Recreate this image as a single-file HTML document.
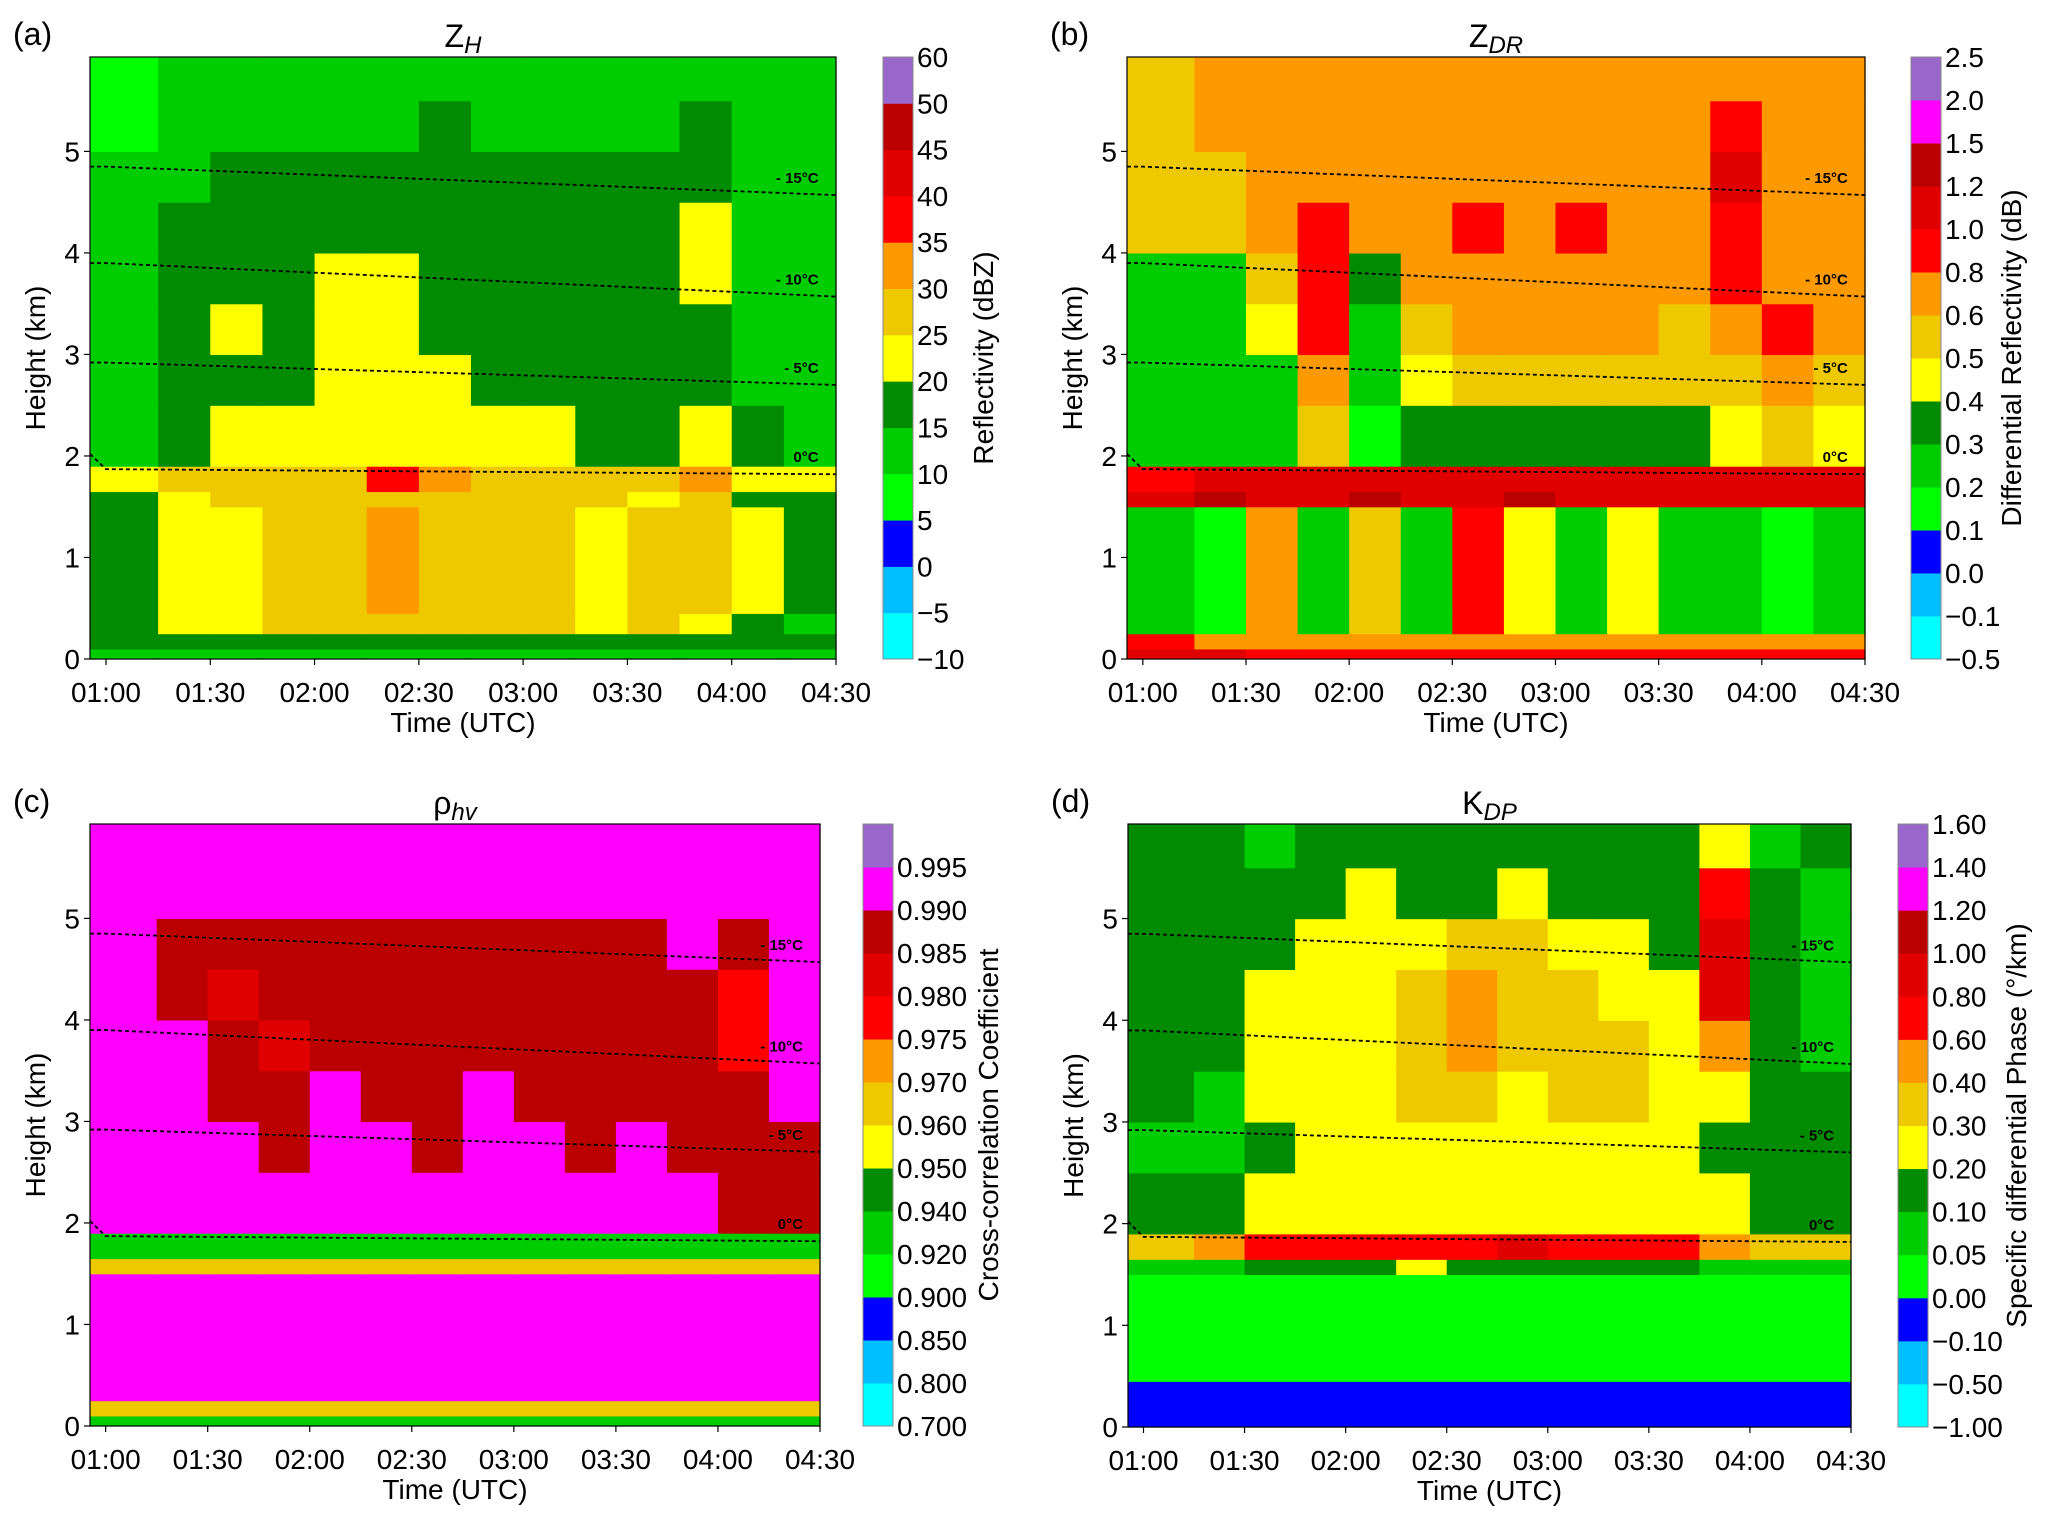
<!DOCTYPE html>
<html><head><meta charset="utf-8">
<style>
html,body{margin:0;padding:0;background:#fff;}
svg{display:block;font-family:"Liberation Sans",sans-serif;}
</style></head>
<body>
<svg id="fig" width="2067" height="1520" viewBox="0 0 2067 1520" xmlns="http://www.w3.org/2000/svg"></svg>
<script>
// palette shared by all panels (bottom to top)
const palette = ["#00ffff","#00bfff","#0000ff","#00ff00","#00cd00","#008b00","#ffff00","#eec900","#ff9900","#ff0000","#e00000","#bb0000","#ff00ff","#9966cc"];
const paletteA = ["#00ffff","#00bfff","#0000ff","#00ff00","#00cd00","#008b00","#ffff00","#eec900","#ff9900","#ff0000","#e00000","#bb0000","#9966cc"];
// row boundaries (km) and column times (minutes after 01:00)
const heights = [0,0.1,0.25,0.45,1.5,1.65,1.9,2.5,3,3.5,4,4.5,5,5.5,5.93];
const times = [-5,15,30,45,60,75,90,105,120,135,150,165,180,195,210];
const xTicks = ["01:00","01:30","02:00","02:30","03:00","03:30","04:00","04:30"];
const yTicks = [0,1,2,3,4,5];
// level indices, rows listed top to bottom
const gridA = [
[3,4,4,4,4,4,4,4,4,4,4,4,4,4],
[3,4,4,4,4,4,5,4,4,4,4,5,4,4],
[4,4,5,5,5,5,5,5,5,5,5,5,4,4],
[4,5,5,5,5,5,5,5,5,5,5,6,4,4],
[4,5,5,5,6,6,5,5,5,5,5,6,4,4],
[4,5,6,5,6,6,5,5,5,5,5,5,4,4],
[4,5,5,5,6,6,6,5,5,5,5,5,4,4],
[4,5,6,6,6,6,6,6,6,5,5,6,5,4],
[6,7,7,7,7,9,8,7,7,7,7,8,6,6],
[5,6,7,7,7,7,7,7,7,7,6,7,5,5],
[5,6,6,7,7,8,7,7,7,6,7,7,6,5],
[5,6,6,7,7,7,7,7,7,6,7,6,5,4],
[5,5,5,5,5,5,5,5,5,5,5,5,5,5],
[4,4,4,4,4,4,4,4,4,4,4,4,4,4]];
const gridB = [
[7,8,8,8,8,8,8,8,8,8,8,8,8,8],
[7,8,8,8,8,8,8,8,8,8,8,9,8,8],
[7,7,8,8,8,8,8,8,8,8,8,10,8,8],
[7,7,8,9,8,8,9,8,9,8,8,9,8,8],
[4,4,7,9,5,8,8,8,8,8,8,9,8,8],
[4,4,6,9,4,7,8,8,8,8,7,8,9,8],
[4,4,4,8,4,6,7,7,7,7,7,7,8,7],
[4,4,4,7,3,5,5,5,5,5,5,6,7,6],
[9,10,10,10,10,10,10,10,10,10,10,10,10,10],
[10,11,10,10,11,10,10,11,10,10,10,10,10,10],
[4,3,8,4,7,4,9,6,4,6,4,4,3,4],
[4,3,8,4,7,4,9,6,4,6,4,4,3,4],
[9,8,8,8,8,8,8,8,8,8,8,8,8,8],
[10,10,9,9,9,9,9,9,9,9,9,9,9,9]];
const gridC = [
[12,12,12,12,12,12,12,12,12,12,12,12,12,12],
[12,12,12,12,12,12,12,12,12,12,12,12,12,12],
[12,11,11,11,11,11,11,11,11,11,11,12,11,12],
[12,11,10,11,11,11,11,11,11,11,11,11,9,12],
[12,12,11,10,11,11,11,11,11,11,11,11,9,12],
[12,12,11,11,12,11,11,12,11,11,11,11,11,12],
[12,12,12,11,12,12,11,12,12,11,12,11,11,11],
[12,12,12,12,12,12,12,12,12,12,12,12,11,11],
[4,4,4,4,4,4,4,4,4,4,4,4,4,4],
[7,7,7,7,7,7,7,7,7,7,7,7,7,7],
[12,12,12,12,12,12,12,12,12,12,12,12,12,12],
[12,12,12,12,12,12,12,12,12,12,12,12,12,12],
[7,7,7,7,7,7,7,7,7,7,7,7,7,7],
[4,4,4,4,4,4,4,4,4,4,4,4,4,4]];
const gridD = [
[5,5,4,5,5,5,5,5,5,5,5,6,4,5],
[5,5,5,5,6,5,5,6,5,5,5,9,5,4],
[5,5,5,6,6,6,7,7,6,6,5,10,5,4],
[5,5,6,6,6,7,8,7,7,6,6,10,5,4],
[5,5,6,6,6,7,8,7,7,7,6,8,5,4],
[5,4,6,6,6,7,7,6,7,7,6,6,5,5],
[4,4,5,6,6,6,6,6,6,6,6,5,5,5],
[5,5,6,6,6,6,6,6,6,6,6,6,5,5],
[7,8,9,9,9,9,9,10,9,9,9,8,7,7],
[4,4,5,5,5,6,5,5,5,5,5,4,4,4],
[3,3,3,3,3,3,3,3,3,3,3,3,3,3],
[2,2,2,2,2,2,2,2,2,2,2,2,2,2],
[2,2,2,2,2,2,2,2,2,2,2,2,2,2],
[2,2,2,2,2,2,2,2,2,2,2,2,2,2]];
const cbarA = ["−10","−5","0","5","10","15","20","25","30","35","40","45","50","60"];
const cbarB = ["−0.5","−0.1","0.0","0.1","0.2","0.3","0.4","0.5","0.6","0.8","1.0","1.2","1.5","2.0","2.5"];
const cbarC = ["0.700","0.800","0.850","0.900","0.920","0.940","0.950","0.960","0.970","0.975","0.980","0.985","0.990","0.995"];
const cbarD = ["−1.00","−0.50","−0.10","0.00","0.05","0.10","0.20","0.30","0.40","0.60","0.80","1.00","1.20","1.40","1.60"];
// isotherm heights at start and end (km)
const isoLabels = ["0°C","- 5°C","- 10°C","- 15°C"];
const isoStart = [1.87,2.92,3.9,4.85];
const isoEnd = [1.82,2.7,3.57,4.57];

const NS="http://www.w3.org/2000/svg";
const svg=document.getElementById('fig');
function mk(tag,attrs,parent){const e=document.createElementNS(NS,tag);for(const k in attrs)e.setAttribute(k,attrs[k]);(parent||svg).appendChild(e);return e;}

const panels=[
 {id:"a",L:90,R:836,T:57,B:659,cx:883,cto:110,grid:gridA,pal:paletteA,labels:cbarA,bins:13,title:["Z","H"],cbt:"Reflectivity (dBZ)",lbl:"(a)"},
 {id:"b",L:1127,R:1865,T:57,B:659,cx:1911,cto:110,grid:gridB,pal:palette,labels:cbarB,bins:14,title:["Z","DR"],cbt:"Differential Reflectivity (dB)",lbl:"(b)"},
 {id:"c",L:90,R:820,T:824,B:1426,cx:863,cto:135,grid:gridC,pal:palette,labels:cbarC,bins:14,title:["ρ","hv"],cbt:"Cross-correlation Coefficient",lbl:"(c)"},
 {id:"d",L:1128,R:1851,T:824,B:1427,cx:1898,cto:128,grid:gridD,pal:palette,labels:cbarD,bins:14,title:["K","DP"],cbt:"Specific differential Phase (°/km)",lbl:"(d)"}
];

panels.forEach(p=>{
  const g=mk('g',{});
  
  
  const x=t=>p.L+(t-(-4.6))/(210+4.6)*(p.R-p.L);
  const y=h=>p.B-h/5.93*(p.B-p.T);
  const nr=heights.length-1;
  for(let r=0;r<nr;r++){
    const row=p.grid[nr-1-r];
    for(let c=0;c<row.length;c++){
      const x0=Math.max(p.L,x(times[c])), x1=Math.min(p.R,x(times[c+1]));
      const rc=mk('rect',{x:x0,y:y(heights[r+1]),width:x1-x0+0.6,height:y(heights[r])-y(heights[r+1])+0.6,fill:p.pal[row[c]]},g);
      
      
    }
  }
  isoLabels.forEach((lab,i)=>{
    const pl=mk('path',{d:`M${x(-4.6)},${y(isoStart[i]+(i==0?0.15:0))} L${x(0)},${y(isoStart[i])} L${x(210)},${y(isoEnd[i])}`,fill:"none",stroke:"#000","stroke-width":1.8,"stroke-dasharray":"4,3"},g);
    
    
    const tx=mk('text',{x:x(205),y:y(isoEnd[i])-12,"font-size":15,"font-weight":"bold","text-anchor":"end"},g);
    tx.textContent=lab;
    
    
  });
  const fr=mk('rect',{x:p.L,y:p.T,width:p.R-p.L,height:p.B-p.T,fill:"none",stroke:"#000","stroke-width":1.2},g);
  
  
  xTicks.forEach((t,i)=>{
    const xx=x(i*30);
    mk('line',{x1:xx,x2:xx,y1:p.B,y2:p.B+6,stroke:"#000","stroke-width":1.2},g);
    const tx=mk('text',{x:xx,y:p.B+43,"font-size":28,"text-anchor":"middle"},g);
    tx.textContent=t;
    
    
  });
  yTicks.forEach(v=>{
    const yy=y(v);
    mk('line',{x1:p.L-6,x2:p.L,y1:yy,y2:yy,stroke:"#000","stroke-width":1.2},g);
    const tx=mk('text',{x:p.L-10,y:yy+10,"font-size":28,"text-anchor":"end"},g);
    tx.textContent=v;
    
    
  });
  const xt=mk('text',{x:(p.L+p.R)/2,y:p.B+73,"font-size":28,"text-anchor":"middle"},g);
  xt.textContent="Time (UTC)";
  
  
  const yt=mk('text',{x:0,y:0,"font-size":28,"text-anchor":"middle",transform:`translate(${p.L-45},${(p.T+p.B)/2}) rotate(-90)`},g);
  yt.textContent="Height (km)";
  
  
  const tt=mk('text',{x:(p.L+p.R)/2,y:p.T-10,"font-size":32,"text-anchor":"middle"},g);
  
  
  const t1=mk('tspan',{},tt);t1.textContent=p.title[0];
  const t2=mk('tspan',{"font-size":24,dy:6,"font-style":"italic"},tt);t2.textContent=p.title[1];
  const pl=mk('text',{x:p.L-77,y:p.T-12,"font-size":32},g);
  pl.textContent=p.lbl;
  
  
  const bh=(p.B-p.T)/p.bins;
  for(let i=0;i<p.bins;i++){
    const cr=mk('rect',{x:p.cx,y:p.B-(i+1)*bh,width:30,height:bh+0.5,fill:p.pal[i]},g);
    
    
  }
  mk('rect',{x:p.cx,y:p.T,width:30,height:p.B-p.T,fill:"none",stroke:"#888","stroke-width":1},g);
  p.labels.forEach((l,i)=>{
    const tx=mk('text',{x:p.cx+34,y:p.B-i*bh+10,"font-size":28},g);
    tx.textContent=l;
    
    
  });
  const ct=mk('text',{x:0,y:0,"font-size":28,"text-anchor":"middle",transform:`translate(${p.cx+p.cto},${(p.T+p.B)/2}) rotate(-90)`},g);
  ct.textContent=p.cbt;
  
  
});
</script>
</body></html>
